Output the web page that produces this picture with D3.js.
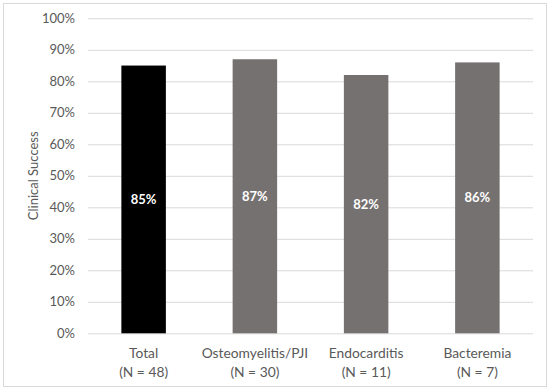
<!DOCTYPE html>
<html><head><meta charset="utf-8">
<script src="https://cdn.jsdelivr.net/npm/d3@7"></script>
<style>body{margin:0;background:#fff}svg{display:block}text{font-family:Lato,"Open Sans",sans-serif}</style>
</head><body><svg id="c" width="550" height="391"></svg>
<script>
const categories = ["Total", "Osteomyelitis/PJI", "Endocarditis", "Bacteremia"];
const sampleSizes = ["(N = 48)", "(N = 30)", "(N = 11)", "(N = 7)"];
const successRates = [85, 87, 82, 86];
const barColors = ["#000000", "#767171", "#767171", "#767171"];
const yTicks = [0,10,20,30,40,50,60,70,80,90,100];
const yTitle = "Clinical Success";

const svg = d3.select("#c");
svg.append("rect").attr("x",3.5).attr("y",3.5).attr("width",543).attr("height",383)
  .attr("fill","#fff").attr("stroke","#d9d9d9");

const m = {left:88, right:533, top:18.3, bottom:333.3};
const x = d3.scaleBand().domain(categories).range([m.left,m.right]).paddingInner(0.6).paddingOuter(0.3);
const y = d3.scaleLinear().domain([0,100]).range([m.bottom,m.top]);

const yAxis = svg.append("g").attr("transform",`translate(${m.left},0)`)
  .call(d3.axisLeft(y).tickValues(yTicks).tickFormat(d=>d+"%").tickSize(-(m.right-m.left)).tickPadding(13));
yAxis.select(".domain").remove();
yAxis.selectAll(".tick line").attr("stroke","#d9d9d9").attr("stroke-width",1);
yAxis.selectAll(".tick text").attr("fill","#595959").style("font-size","13px");

svg.selectAll("rect.bar").data(successRates).join("rect").attr("class","bar")
  .attr("x",(d,i)=>x(categories[i])).attr("width",x.bandwidth())
  .attr("y",d=>y(d)).attr("height",d=>y(0)-y(d)).attr("fill",(d,i)=>barColors[i]);

svg.selectAll("text.val").data(successRates).join("text").attr("class","val")
  .attr("x",(d,i)=>x(categories[i])+x.bandwidth()/2).attr("y",d=>(y(d)+y(0))/2)
  .attr("dy","0.35em").attr("text-anchor","middle").attr("fill","#fff")
  .style("font-size","13px").style("font-weight","bold").text(d=>d+"%");

const cat = svg.append("g");
categories.forEach((c,i)=>{
  const cx = x(c)+x.bandwidth()/2;
  cat.append("text").attr("x",cx).attr("y",358).attr("text-anchor","middle").attr("fill","#595959").style("font-size","13.8px").text(c);
  cat.append("text").attr("x",cx).attr("y",377).attr("text-anchor","middle").attr("fill","#595959").style("font-size","13.8px").text(sampleSizes[i]);
});

svg.append("text").attr("transform",`translate(38,${(m.top+m.bottom)/2}) rotate(-90)`)
  .attr("text-anchor","middle").attr("fill","#595959").style("font-size","13px").text(yTitle);
</script></body></html>
